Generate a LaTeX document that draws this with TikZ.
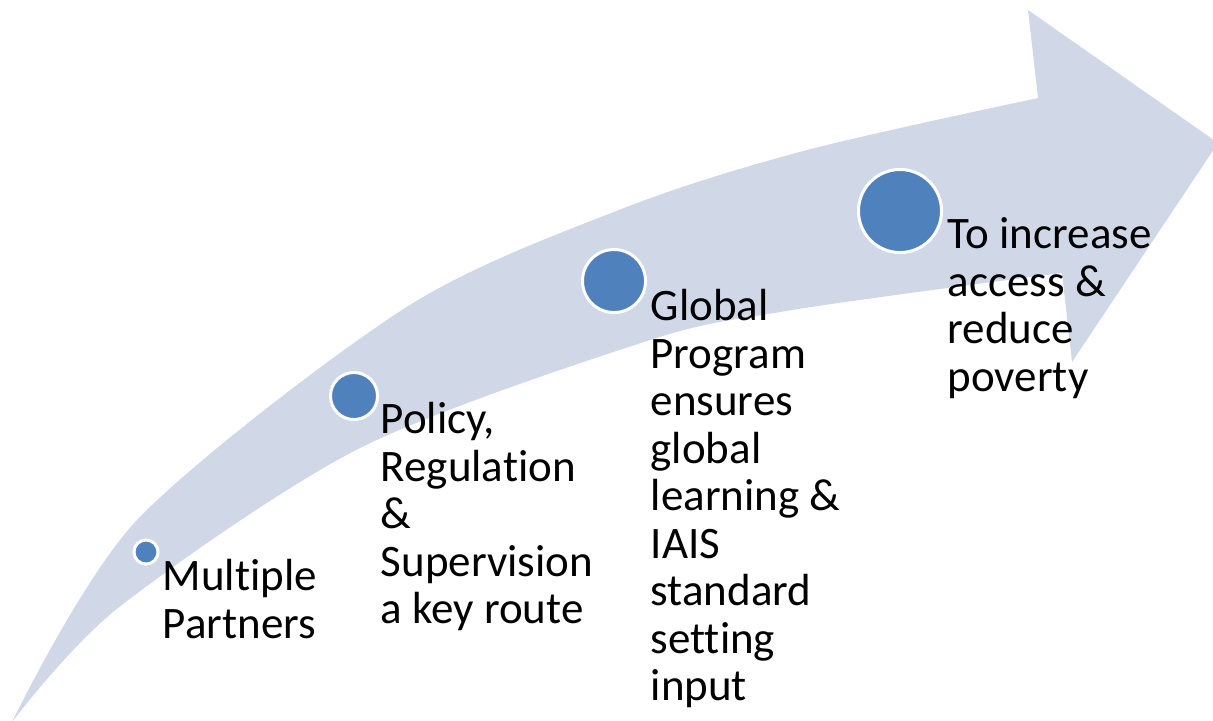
\documentclass[tikz,border=0pt]{standalone}
\usepackage{fontspec}
\setmainfont{Carlito}[Ligatures=NoCommon]
\usetikzlibrary{positioning}
\definecolor{arrowfill}{RGB}{208,216,232}
\definecolor{dotblue}{RGB}{79,129,189}

\begin{document}
\begin{tikzpicture}[x=0.01cm, y=-0.01cm,
    dot/.style={circle, fill=dotblue, draw=white, line width=0.85pt, inner sep=0pt},
    steptext/.style={anchor=north west, inner sep=0pt, align=left, font=\fontsize{12.8}{13.5}\selectfont}]
    \useasboundingbox (0,0) rectangle (1213,720);
    \clip (0,0) rectangle (1213,720);

    % Arrow head
    \coordinate (upbarb) at (1028,10);
    \coordinate (tip) at (1218,143);
    \coordinate (lowbarb) at (1072,362);

    % Curved arrow body
    \fill[arrowfill] plot[smooth] coordinates {(12,722) (137,520) (405,308) (624,208) (807,150) (1038,98)}
        -- (upbarb) -- (tip) -- (lowbarb)
        -- plot[smooth] coordinates {(1062,273) (947,288) (780,312) (650,340) (360,448) (118,608) (12,722)} -- cycle;

    % Milestones
    \node[dot, minimum size=0.24cm] (d1) at (146,552) {};
    \node[dot, minimum size=0.47cm] (d2) at (354,396) {};
    \node[dot, minimum size=0.63cm] (d3) at (614,281) {};
    \node[dot, minimum size=0.83cm] (d4) at (900,211) {};

    % Labels
    \node[steptext] (t1) at (162,559) {Multiple\\Partners};
    \node[steptext] (t2) at (380,402) {Policy,\\Regulation\\\&\\Supervision\\a key route};
    \node[steptext] (t3) at (650,289) {Global\\Program\\ensures\\global\\learning \&\\IAIS\\standard\\setting\\input};
    \node[steptext] (t4) at (947,217) {To increase\\access \&\\reduce\\poverty};

\end{tikzpicture}
\end{document}
